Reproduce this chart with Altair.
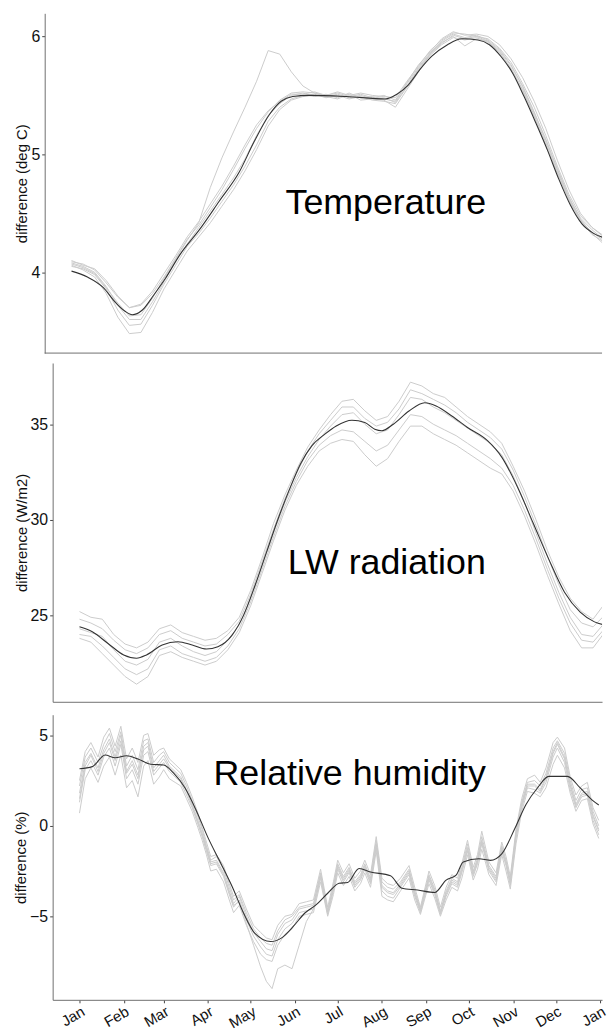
import altair as alt
import pandas as pd

FONT = "Liberation Sans"

MONTH_NAMES = ["Jan", "Feb", "Mar", "Apr", "May", "Jun", "Jul", "Aug", "Sep", "Oct", "Nov", "Dec", "Jan"]
MONTH_DAYS = [0, 31, 59, 90, 120, 151, 181, 212, 243, 273, 304, 334, 365]

# ---------------- Temperature ----------------
GRID8 = [0, 8, 16, 24, 32, 40, 48, 56, 64, 72,
         80, 88, 96, 104, 112, 120, 128, 136, 144, 152,
         160, 168, 176, 184, 192, 200, 208, 216, 224, 232,
         240, 248, 256, 264, 272, 280, 288, 296, 304, 312,
         320, 328, 336, 344, 352, 360, 368]

TEMP_M1 = [4.10, 4.06, 4.03, 3.93, 3.80, 3.70, 3.72, 3.82, 3.96, 4.12,
           4.28, 4.40, 4.55, 4.70, 4.87, 5.05, 5.22, 5.36, 5.46, 5.52,
           5.53, 5.52, 5.50, 5.53, 5.50, 5.52, 5.50, 5.49, 5.48, 5.62,
           5.75, 5.88, 5.97, 6.03, 6.02, 6.00, 5.98, 5.90, 5.78, 5.60,
           5.40, 5.16, 4.90, 4.66, 4.48, 4.38, 4.31]
TEMP_M2 = [4.05, 4.03, 3.98, 3.86, 3.68, 3.55, 3.56, 3.72, 3.90, 4.06,
           4.22, 4.33, 4.46, 4.60, 4.74, 4.90, 5.08, 5.28, 5.40, 5.47,
           5.50, 5.51, 5.48, 5.50, 5.47, 5.49, 5.46, 5.45, 5.43, 5.57,
           5.72, 5.84, 5.93, 5.99, 5.97, 5.99, 5.95, 5.87, 5.73, 5.55,
           5.33, 5.10, 4.85, 4.62, 4.44, 4.32, 4.26]
TEMP_M3 = [4.06, 4.02, 3.96, 3.82, 3.62, 3.48, 3.49, 3.66, 3.86, 4.02,
           4.18, 4.30, 4.42, 4.56, 4.70, 4.86, 5.04, 5.24, 5.38, 5.46,
           5.49, 5.50, 5.49, 5.47, 5.51, 5.46, 5.47, 5.46, 5.40, 5.55,
           5.70, 5.85, 5.95, 6.00, 5.92, 5.98, 5.96, 5.88, 5.75, 5.58,
           5.36, 5.12, 4.88, 4.64, 4.45, 4.33, 4.24]
TEMP_M4 = [4.08, 4.05, 4.00, 3.88, 3.72, 3.60, 3.60, 3.75, 3.92, 4.10,
           4.24, 4.38, 4.52, 4.66, 4.80, 4.96, 5.16, 5.33, 5.43, 5.50,
           5.52, 5.49, 5.51, 5.48, 5.52, 5.48, 5.49, 5.47, 5.45, 5.60,
           5.74, 5.86, 5.96, 6.02, 5.99, 6.01, 5.97, 5.89, 5.76, 5.57,
           5.35, 5.13, 4.87, 4.63, 4.46, 4.36, 4.28]
TEMP_M5 = [4.09, 4.07, 4.02, 3.91, 3.79, 3.70, 3.73, 3.84, 3.99, 4.14,
           4.30, 4.43, 4.58, 4.73, 4.90, 5.08, 5.25, 5.37, 5.45, 5.51,
           5.51, 5.53, 5.50, 5.52, 5.49, 5.51, 5.48, 5.50, 5.46, 5.61,
           5.76, 5.87, 5.98, 6.04, 6.01, 6.02, 6.00, 5.93, 5.81, 5.65,
           5.45, 5.22, 4.95, 4.70, 4.50, 4.38, 4.30]
TEMP_M6 = [4.07, 4.04, 3.99, 3.87, 3.74, 3.63, 3.64, 3.78, 3.95, 4.11,
           4.27, 4.42, 4.72, 4.97, 5.19, 5.40, 5.62, 5.88, 5.85, 5.70,
           5.58, 5.52, 5.49, 5.51, 5.48, 5.50, 5.47, 5.48, 5.44, 5.58,
           5.73, 5.85, 5.94, 6.01, 5.98, 6.00, 5.96, 5.86, 5.72, 5.54,
           5.32, 5.08, 4.84, 4.61, 4.44, 4.34, 4.27]

TEMP_MEAN_DAYS = [0, 11, 22, 30, 37, 42, 49, 57, 65, 75,
                  89, 102, 116, 126, 137, 145, 153, 164, 190, 217,
                  225, 233, 241, 249, 260, 270, 281, 289, 297, 305,
                  313, 321, 329, 337, 345, 353, 361, 369]
TEMP_MEAN = [4.01, 3.96, 3.87, 3.75, 3.67, 3.64, 3.68, 3.81, 3.95, 4.15,
             4.37, 4.60, 4.85, 5.10, 5.34, 5.45, 5.49, 5.50, 5.49, 5.47,
             5.51, 5.59, 5.72, 5.83, 5.93, 5.98, 5.97, 5.93, 5.83, 5.69,
             5.49, 5.27, 5.04, 4.79, 4.57, 4.41, 4.33, 4.29]

# ---------------- LW radiation ----------------
LW_M1 = [25.2, 24.9, 24.8, 24.0, 23.5, 23.3, 23.6, 24.3, 24.5, 24.1,
         23.9, 23.7, 23.8, 24.2, 24.9, 26.3, 28.0, 29.8, 31.3, 32.6,
         33.8, 34.7, 35.5, 36.2, 36.3, 35.7, 35.2, 35.4, 36.2, 37.2,
         37.0, 36.6, 36.4, 35.9, 35.4, 35.0, 34.6, 34.0, 32.8, 31.5,
         30.0, 28.4, 27.0, 25.9, 25.2, 24.8, 25.6]
LW_M2 = [24.8, 24.6, 24.3, 23.7, 23.2, 23.0, 23.3, 24.0, 24.2, 23.8,
         23.6, 23.4, 23.5, 24.0, 24.7, 26.1, 27.8, 29.5, 31.1, 32.4,
         33.6, 34.5, 35.2, 35.9, 35.9, 35.3, 34.9, 35.1, 35.8, 36.8,
         36.6, 36.3, 36.0, 35.6, 35.1, 34.7, 34.3, 33.7, 32.6, 31.2,
         29.7, 28.1, 26.6, 25.3, 24.6, 24.4, 25.0]
LW_M3 = [24.3, 24.1, 23.9, 23.2, 22.6, 22.4, 22.7, 23.6, 23.8, 23.4,
         23.1, 22.9, 23.1, 23.7, 24.5, 25.9, 27.6, 29.3, 30.9, 32.2,
         33.3, 34.2, 34.9, 35.5, 35.6, 35.0, 34.5, 34.7, 35.5, 36.4,
         36.3, 35.9, 35.6, 35.2, 34.8, 34.4, 34.0, 33.4, 32.3, 30.9,
         29.3, 27.7, 26.2, 24.9, 24.0, 23.9, 24.6]
LW_M4 = [24.0, 23.9, 23.4, 22.8, 22.2, 21.9, 22.2, 23.2, 23.4, 23.0,
         22.8, 22.6, 22.8, 23.4, 24.3, 25.7, 27.4, 29.1, 30.7, 32.0,
         33.1, 33.9, 34.4, 34.7, 34.6, 34.1, 33.6, 33.9, 34.7, 35.5,
         35.4, 35.0, 34.7, 34.4, 34.0, 33.6, 33.2, 32.7, 31.8, 30.5,
         29.0, 27.4, 25.9, 24.6, 23.7, 23.6, 24.3]
LW_M5 = [23.8, 23.6, 23.0, 22.4, 21.8, 21.4, 21.8, 22.9, 23.1, 22.8,
         22.6, 22.4, 22.6, 23.2, 24.1, 25.5, 27.2, 28.9, 30.5, 31.8,
         32.8, 33.6, 34.0, 34.2, 34.1, 33.4, 32.8, 33.2, 34.1, 34.9,
         34.9, 34.5, 34.2, 33.9, 33.5, 33.1, 32.7, 32.4, 31.5, 30.2,
         28.7, 27.1, 25.6, 24.2, 23.3, 23.3, 24.1]

LW_MEAN_DAYS = [0, 9, 20, 31, 40, 47, 58, 69, 79, 89,
                97, 107, 115, 123, 131, 139, 147, 155, 163, 172,
                180, 191, 200, 207, 212, 220, 231, 242, 250, 261,
                272, 286, 296, 307, 318, 329, 340, 351, 361, 369]
LW_MEAN = [24.40, 24.14, 23.53, 22.93, 22.76, 22.93, 23.45, 23.62, 23.45, 23.24,
           23.36, 23.97, 25.00, 26.55, 28.28, 30.00, 31.55, 32.93, 33.88, 34.48,
           34.91, 35.21, 35.09, 34.74, 34.66, 35.00, 35.69, 36.12, 35.95, 35.43,
           34.83, 34.14, 33.28, 31.72, 29.83, 27.93, 26.21, 25.17, 24.66, 24.48]

# ---------------- Relative humidity ----------------
RH_DAYS = [0, 4, 8, 13, 17, 21, 25, 29, 33, 37,
           41, 45, 48, 52, 56, 59, 63, 67, 71, 75,
           79, 83, 86, 89, 92, 96, 101, 105, 108, 112,
           117, 122, 127, 131, 135, 139, 144, 149, 154, 159,
           164, 169, 174, 178, 181, 185, 189, 193, 197, 200,
           204, 208, 212, 216, 220, 225, 231, 235, 239, 245,
           249, 253, 257, 261, 265, 268, 272, 276, 279, 282,
           287, 292, 296, 299, 302, 306, 310, 314, 319, 323,
           327, 332, 335, 340, 344, 348, 352, 356, 360, 364]

RH_M1 = [2.5, 4.1, 4.6, 3.8, 4.9, 5.4, 4.4, 5.5, 3.7, 4.3,
         3.5, 5.0, 5.1, 3.9, 4.2, 4.3, 3.7, 3.4, 3.1, 2.4,
         1.6, 0.7, -0.1, -0.9, -1.7, -1.6, -2.2, -3.2, -3.9, -3.6,
         -4.6, -5.5, -5.9, -6.2, -6.3, -5.5, -5.0, -4.9, -4.3, -4.2,
         -4.1, -2.4, -4.5, -3.1, -1.9, -2.6, -2.1, -2.9, -2.5, -1.9,
         -2.7, -0.6, -2.9, -3.2, -3.3, -2.9, -2.2, -3.4, -4.5, -2.5,
         -3.3, -4.5, -3.4, -2.7, -2.9, -2.1, -0.8, -2.3, -1.6, -0.3,
         -2.0, -2.6, -0.9, -1.7, -2.8, -0.2, 1.5, 2.6, 2.8, 2.4,
         3.2, 4.6, 4.9, 4.3, 2.7, 1.7, 2.2, 2.4, 1.0, 0.3]
RH_M2 = [2.2, 3.8, 4.3, 3.5, 4.5, 5.1, 4.1, 5.2, 3.3, 3.9,
         3.1, 4.7, 4.8, 3.5, 3.9, 4.1, 3.5, 3.2, 2.9, 2.2,
         1.4, 0.5, -0.2, -1.1, -1.9, -1.7, -2.4, -3.4, -4.1, -3.8,
         -4.8, -5.7, -6.2, -6.5, -6.6, -5.8, -5.2, -5.0, -4.5, -4.4,
         -4.3, -2.6, -4.7, -3.3, -2.1, -2.8, -2.3, -3.1, -2.7, -2.1,
         -2.9, -0.8, -3.1, -3.4, -3.5, -3.1, -2.4, -3.6, -4.6, -2.7,
         -3.5, -4.7, -3.6, -2.9, -3.1, -2.3, -1.0, -2.5, -1.8, -0.6,
         -2.2, -2.8, -1.1, -1.9, -3.0, -0.4, 1.3, 2.4, 2.5, 2.2,
         2.9, 4.3, 4.7, 4.0, 2.5, 1.4, 2.0, 2.1, 0.8, 0.0]
RH_M3 = [1.8, 3.5, 4.0, 3.2, 4.2, 4.8, 3.8, 5.0, 3.0, 3.6,
         2.8, 4.4, 4.6, 3.2, 3.6, 3.9, 3.3, 3.0, 2.7, 2.0,
         1.2, 0.3, -0.4, -1.2, -2.0, -1.9, -2.6, -3.6, -4.3, -3.9,
         -5.0, -5.9, -6.4, -6.8, -6.9, -6.0, -5.4, -5.2, -4.6, -4.5,
         -4.4, -2.7, -4.8, -3.4, -2.2, -2.9, -2.4, -3.2, -2.8, -2.2,
         -3.0, -1.0, -3.3, -3.6, -3.7, -3.2, -2.5, -3.7, -4.7, -2.8,
         -3.6, -4.8, -3.7, -3.0, -3.2, -2.4, -1.2, -2.6, -1.9, -0.8,
         -2.3, -2.9, -1.2, -2.0, -3.1, -0.5, 1.2, 2.3, 2.3, 2.0,
         2.7, 4.1, 4.6, 3.8, 2.3, 1.2, 1.8, 1.9, 0.6, -0.2]
RH_M4 = [1.3, 3.1, 3.6, 2.8, 3.8, 4.3, 3.3, 4.5, 2.6, 3.1,
         2.3, 3.9, 4.1, 2.8, 3.2, 3.5, 3.0, 2.7, 2.4, 1.7,
         1.0, 0.1, -0.6, -1.4, -2.2, -2.1, -2.8, -3.8, -4.5, -4.1,
         -5.2, -6.1, -6.7, -7.1, -7.2, -6.3, -5.7, -5.4, -4.8, -4.7,
         -4.6, -2.9, -4.9, -3.6, -2.4, -3.1, -2.6, -3.4, -3.0, -2.4,
         -3.2, -1.2, -3.6, -3.9, -4.0, -3.4, -2.7, -3.9, -4.8, -3.0,
         -3.8, -4.9, -3.9, -3.2, -3.4, -2.6, -1.4, -2.8, -2.1, -1.0,
         -2.5, -3.1, -1.4, -2.2, -3.3, -0.7, 1.0, 2.1, 2.0, 1.8,
         2.4, 3.8, 4.3, 3.5, 2.0, 1.0, 1.6, 1.7, 0.3, -0.5]
RH_M5 = [0.7, 2.6, 3.2, 2.4, 3.3, 3.8, 2.8, 3.9, 2.1, 2.5,
         1.6, 3.3, 3.6, 2.3, 2.7, 3.1, 2.6, 2.4, 2.2, 1.5,
         0.8, -0.1, -0.8, -1.6, -2.5, -2.4, -3.1, -4.1, -4.8, -4.4,
         -5.5, -6.4, -7.1, -7.4, -7.5, -6.6, -6.0, -5.7, -5.0, -4.9,
         -4.8, -3.1, -5.0, -3.8, -2.6, -3.3, -2.8, -3.6, -3.2, -2.6,
         -3.4, -1.4, -3.9, -4.1, -4.2, -3.6, -2.9, -4.1, -4.9, -3.2,
         -4.0, -5.0, -4.1, -3.4, -3.6, -2.9, -1.6, -3.0, -2.4, -1.3,
         -2.7, -3.3, -1.6, -2.5, -3.5, -1.0, 0.8, 1.9, 1.8, 1.6,
         2.1, 3.4, 3.9, 3.2, 1.8, 0.8, 1.4, 1.5, 0.1, -0.7]
RH_M6 = [1.5, 3.3, 3.9, 3.0, 4.0, 4.6, 3.6, 4.7, 2.9, 3.4,
         2.6, 4.2, 4.4, 3.0, 3.4, 3.7, 3.2, 2.9, 2.6, 1.9,
         1.1, 0.2, -0.5, -1.3, -2.1, -2.0, -2.7, -3.7, -4.4, -4.2,
         -5.4, -6.6, -7.8, -8.6, -9.0, -7.9, -7.7, -7.9, -6.6, -5.3,
         -4.6, -2.8, -4.7, -3.5, -2.3, -3.0, -2.5, -3.3, -2.9, -2.3,
         -3.1, -1.1, -3.4, -3.7, -3.8, -3.3, -2.6, -3.8, -4.7, -2.9,
         -3.7, -4.8, -3.8, -3.1, -3.3, -2.5, -1.3, -2.7, -2.0, -0.9,
         -2.4, -3.0, -1.3, -2.1, -3.2, -0.6, 1.1, 2.2, 2.2, 1.9,
         2.6, 4.0, 4.5, 3.7, 2.2, 1.1, 1.7, 1.8, 0.5, -0.3]

RH_MEAN_DAYS = [0, 9, 18, 25, 33, 41, 50, 59, 66, 74,
                82, 90, 98, 107, 115, 123, 134, 142, 150, 158,
                166, 174, 182, 188, 196, 204, 218, 226, 237, 249,
                257, 264, 269, 280, 288, 296, 305, 313, 321, 329,
                342, 351, 359, 364]
RH_MEAN = [3.15, 3.27, 3.91, 3.76, 3.87, 3.69, 3.40, 3.36, 2.91, 2.09,
           0.82, -0.64, -1.91, -3.36, -4.82, -5.95, -6.40, -6.18, -5.55, -4.82,
           -4.36, -3.73, -3.18, -3.13, -2.36, -2.55, -2.76, -3.45, -3.55, -3.69,
           -3.00, -2.73, -2.00, -1.82, -1.91, -1.55, -0.18, 1.18, 2.09, 2.73,
           2.73, 2.09, 1.45, 1.15]

PANEL_LABELS = ["Temperature", "LW radiation", "Relative humidity"]
Y_TITLES = ["difference (deg C)", "difference (W/m2)", "difference (%)"]
Y_TICKS = [[4, 5, 6], [25, 30, 35], [-5, 0, 5]]

# axis ranges (data units)
TEMP_X = [-13.05, 366.9]
TEMP_X_AXIS_START = -18.55
TEMP_Y = [3.315, 6.196]
LW_X = [-18.8, 366.3]
LW_Y = [20.48, 38.2]
RH_X = [-18.8, 366.3]
RH_Y = [-9.62, 6.14]


def members_frame(days, members):
    rows = []
    for name, vals in members.items():
        for d, v in zip(days, vals):
            rows.append({"day": d, "value": v, "member": name})
    return pd.DataFrame(rows)


def mean_frame(days, vals):
    return pd.DataFrame({"day": days, "value": vals})


label_expr = ("[" + ",".join("'%s'" % m for m in MONTH_NAMES) + "][indexof(["
              + ",".join(str(d) for d in MONTH_DAYS) + "], datum.value)]")

DOMAIN_COLOR = "#707070"


def panel(mem_df, mean_df, xdom, ydom, yticks, ytitle, label, lx, ly, width, height,
          show_x, y_offset=0, x_axis_start=None):
    if show_x:
        xaxis = alt.Axis(values=MONTH_DAYS, labelExpr=label_expr, labelAngle=330,
                         labelAlign="right", labelBaseline="top", tickSize=3,
                         labelFontSize=15, labelPadding=1, title=None, grid=False,
                         domainColor=DOMAIN_COLOR, tickColor="#444444", labelColor="#111111")
    else:
        xaxis = alt.Axis(labels=False, ticks=False, title=None, grid=False,
                         domain=x_axis_start is None, domainColor=DOMAIN_COLOR)
    x = alt.X("day:Q", scale=alt.Scale(domain=xdom, nice=False, zero=False), axis=xaxis)
    y = alt.Y("value:Q", scale=alt.Scale(domain=ydom, nice=False, zero=False),
              axis=alt.Axis(values=yticks, title=ytitle, grid=False, tickSize=3,
                            labelFontSize=16, labelPadding=2, titleFontSize=15,
                            titleFontWeight="normal", titlePadding=1, offset=y_offset,
                            domainColor=DOMAIN_COLOR, tickColor="#444444",
                            labelColor="#111111", titleColor="#111111"))
    gray = alt.Chart(mem_df).mark_line(color="#cccccc", strokeWidth=1, clip=True).encode(
        x=x, y=y, detail="member:N")
    dark = alt.Chart(mean_df).mark_line(color="#333333", strokeWidth=1.1, clip=True,
                                        interpolate="monotone").encode(x=x, y=y)
    txt = alt.Chart(pd.DataFrame({"day": [lx], "value": [ly], "text": [label]})).mark_text(
        align="right", baseline="alphabetic", fontSize=36, font=FONT, color="black"
    ).encode(x=x, y=y, text="text:N")
    layers = [gray, dark, txt]
    if x_axis_start is not None:
        base = pd.DataFrame({"day": [x_axis_start], "day_end": [xdom[1]], "value": [ydom[0]]})
        rule = alt.Chart(base).mark_rule(color=DOMAIN_COLOR, strokeWidth=1).encode(
            x=x, x2="day_end:Q", y=y)
        layers.append(rule)
    return alt.layer(*layers).properties(width=width, height=height)


temp_df = members_frame(GRID8, {"a": TEMP_M1, "b": TEMP_M2, "c": TEMP_M3,
                                "d": TEMP_M4, "e": TEMP_M5, "f": TEMP_M6})
lw_df = members_frame(GRID8, {"a": LW_M1, "b": LW_M2, "c": LW_M3, "d": LW_M4, "e": LW_M5})
rh_df = members_frame(RH_DAYS, {"a": RH_M1, "b": RH_M2, "c": RH_M3, "d": RH_M4,
                                "e": RH_M5, "f": RH_M6})

p1 = panel(temp_df, mean_frame(TEMP_MEAN_DAYS, TEMP_MEAN), TEMP_X, TEMP_Y,
           Y_TICKS[0], Y_TITLES[0], PANEL_LABELS[0], 286.8, 4.494, 553, 342, False,
           y_offset=8, x_axis_start=TEMP_X_AXIS_START)
p2 = panel(lw_df, mean_frame(LW_MEAN_DAYS, LW_MEAN), LW_X, LW_Y,
           Y_TICKS[1], Y_TITLES[1], PANEL_LABELS[1], 284.8, 27.19, 553, 341, False)
p3 = panel(rh_df, mean_frame(RH_MEAN_DAYS, RH_MEAN), RH_X, RH_Y,
           Y_TICKS[2], Y_TITLES[2], PANEL_LABELS[2], 284.8, 2.23, 553, 287, True)

top = alt.vconcat(p1, p2, spacing=9)
chart = alt.vconcat(top, p3, spacing=13).properties(
    padding={"left": 13, "top": 10, "right": 0, "bottom": 0}
).configure(font=FONT).configure_view(stroke=None)

chart.save("out.html", embed_options={"renderer": "svg", "actions": False})
